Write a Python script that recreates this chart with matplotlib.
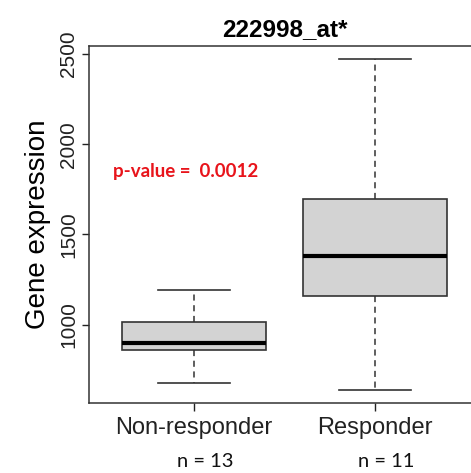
import matplotlib
matplotlib.use("Agg")
import matplotlib.pyplot as plt

# box summary per group (values on the gene expression scale)
groups = ["Non-responder", "Responder"]
n_counts = [13, 11]
whisker_low = [678, 639]
q1 = [861, 1161]
median = [900, 1378]
q3 = [1017, 1694]
whisker_high = [1194, 2472]

y_ticks = [1000, 1500, 2000, 2500]
p_value = "0.0012"
probe = "222998_at*"

plt.rcParams["font.family"] = ["Liberation Sans", "DejaVu Sans"]

fig = plt.figure(figsize=(4.71, 4.73), dpi=100)
ax = fig.add_axes([0.189, 0.148, 0.830, 0.755])

stats = []
for i, g in enumerate(groups):
    stats.append(dict(label=g, whislo=whisker_low[i], q1=q1[i], med=median[i],
                      q3=q3[i], whishi=whisker_high[i], fliers=[]))

positions = list(range(1, len(groups) + 1))
ax.bxp(stats, positions=positions, widths=0.8, patch_artist=True,
       showfliers=False,
       boxprops=dict(facecolor="#d3d3d3", edgecolor="#333333", linewidth=1.2),
       medianprops=dict(color="black", linewidth=3),
       whiskerprops=dict(color="#333333", linewidth=1.1, linestyle=(0, (4, 3))),
       capprops=dict(color="#333333", linewidth=1.2),
       capwidths=0.4)

# R-style limits: 4% padding around the data range
lo, hi = min(whisker_low), max(whisker_high)
pad = 0.04 * (hi - lo)
ax.set_ylim(lo - pad, hi + pad)
ax.set_xlim(0.5 - 0.08, len(groups) + 0.5 + 0.08)

ax.set_yticks(y_ticks)
ax.set_yticklabels([str(t) for t in y_ticks], rotation=90, va="center", fontsize=15)
ax.set_xticks(positions)
ax.set_xticklabels(groups, fontsize=17)
ax.tick_params(axis="y", length=5, width=1, pad=3, colors="#222222")
ax.tick_params(axis="x", length=6, width=1, pad=4, colors="#222222")
for s in ax.spines.values():
    s.set_color("#333333")
    s.set_linewidth(1.1)

ax.set_ylabel("Gene expression", fontsize=20, labelpad=6)
ax.set_title(probe, fontsize=17.5, fontweight="bold", pad=7)

# group sizes under the axis labels
for pos, n in zip(positions, n_counts):
    ax.annotate(f"n = {n}", xy=(pos + 0.06, -0.165), xycoords=("data", "axes fraction"),
                ha="center", va="center", fontsize=14.5, family=["Lato", "DejaVu Sans"],
                color="#111111")

ax.text(0.553, 1850, f"p-value =  {p_value}", color="#e8141b", fontsize=13.5,
        fontweight="bold", family=["Lato", "DejaVu Sans"], ha="left", va="center")

fig.savefig("out.png", dpi=100)
